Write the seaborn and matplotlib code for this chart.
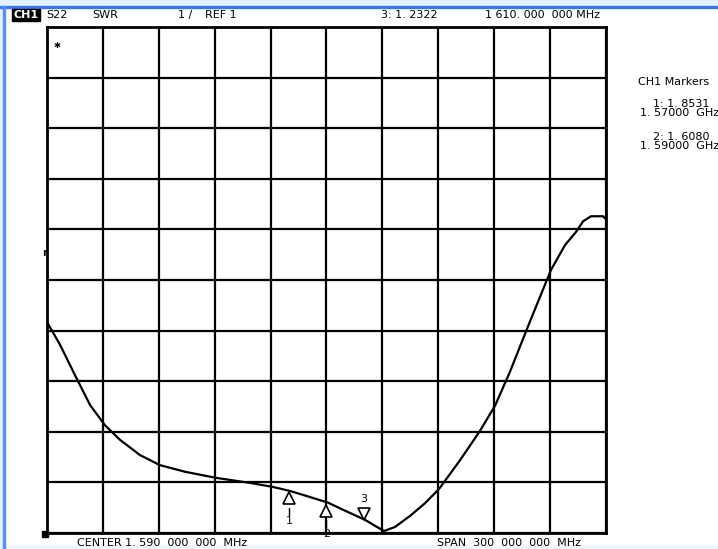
import matplotlib
matplotlib.use("Agg")
import matplotlib.pyplot as plt
import seaborn as sns
import pandas as pd
import numpy as np
from matplotlib.patches import Rectangle

# ---- data ----
freq_ghz = [1.4400, 1.4470, 1.4550, 1.4631, 1.4711, 1.4792, 1.4899, 1.5007,
            1.5141, 1.5307, 1.5490, 1.5613, 1.5705, 1.5812, 1.5908, 1.6000,
            1.6107, 1.6161, 1.6209, 1.6268, 1.6349, 1.6429, 1.6504, 1.6617,
            1.6724, 1.6805, 1.6885, 1.6993, 1.7105, 1.7180, 1.7239, 1.7277,
            1.7320, 1.7384, 1.7400]
swr = [5.17, 4.72, 4.12, 3.53, 3.13, 2.84, 2.54, 2.34, 2.21, 2.09, 1.99,
       1.91, 1.83, 1.71, 1.60, 1.44, 1.26, 1.14, 1.04, 1.12, 1.34, 1.59,
       1.87, 2.44, 3.02, 3.52, 4.19, 5.19, 6.20, 6.69, 6.95, 7.16, 7.26,
       7.26, 7.20]
marker_freq = [1.57, 1.59, 1.61]
marker_swr = [1.8531, 1.6080, 1.2322]
marker_labels = ["1", "2", "3"]

header_texts = ["S22", "SWR", "1 /", "REF 1", "3: 1. 2322", "1 610. 000  000 MHz"]
footer_texts = ["CENTER 1. 590  000  000  MHz", "SPAN  300  000  000  MHz"]
side_texts = ["CH1 Markers", "1: 1. 8531", "1. 57000  GHz", "2: 1. 6080", "1. 59000  GHz"]

center = 1.59
span = 0.30
ref_val = 1.0
per_div = 1.0

sns.set_style("white")
plt.rcParams['font.family'] = ['DejaVu Sans']
plt.rcParams['text.color'] = 'black'

W, H = 718, 549
fig = plt.figure(figsize=(W / 100, H / 100), dpi=100)
fig.patch.set_facecolor("white")

def fx(px):
    return px / W

def fy(py):
    return 1 - py / H

# window frame decorations
fig.patches.append(Rectangle((0, fy(6)), 1, 6 / H, transform=fig.transFigure,
                             color="#e3f1fc", zorder=0))
fig.patches.append(Rectangle((0, fy(8)), 1, 2 / H, transform=fig.transFigure,
                             color="#3b78e7", zorder=1))
fig.patches.append(Rectangle((0, 0), 1, 4 / H, transform=fig.transFigure,
                             color="#eef6fc", zorder=0))
fig.patches.append(Rectangle((0, 0), 3 / W, 1, transform=fig.transFigure,
                             color="#e3f1fc", zorder=0))
fig.patches.append(Rectangle((3 / W, 0), 2 / W, fy(6), transform=fig.transFigure,
                             color="#5b8ef0", zorder=1))

ax = fig.add_axes([fx(47), fy(533), (606 - 47) / W, (533 - 27) / H])
x0 = center - span / 2
x1 = center + span / 2
y0 = ref_val
y1 = ref_val + 10 * per_div
ax.set_xlim(x0, x1)
ax.set_ylim(y0, y1)
ax.set_xticks(np.linspace(x0, x1, 11))
ax.set_yticks(np.linspace(y0, y1, 11))
ax.grid(True, color="black", lw=1.6)
ax.tick_params(length=0, labelbottom=False, labelleft=False)
for s in ax.spines.values():
    s.set_color("black")
    s.set_linewidth(2)
ax.set_facecolor("white")

df = pd.DataFrame({"freq": freq_ghz, "swr": swr})
sns.lineplot(data=df, x="freq", y="swr", color="black", lw=1.6, ax=ax,
             clip_on=True, zorder=5)
ax.set_xlabel("")
ax.set_ylabel("")

# markers
for f, v, lab in zip(marker_freq, marker_swr, marker_labels):
    if lab == "3":
        ax.plot([f], [v + 0.14], marker="v", ms=9, mfc="white", mec="black",
                mew=1.2, zorder=6, clip_on=False)
        ax.text(f, v + 0.34, lab, ha="center", va="bottom", fontsize=8, zorder=7)
    else:
        ax.plot([f], [v - 0.17], marker="^", ms=9, mfc="white", mec="black",
                mew=1.2, zorder=6, clip_on=False)
        ax.plot([f, f], [v - 0.36, v - 0.5], color="black", lw=1, zorder=6)
        ax.text(f, v - 0.52, lab, ha="center", va="top", fontsize=8, zorder=7)

# small symbols
fig.text(fx(57), fy(45), "✱", fontsize=6, ha="center", va="center", fontweight="bold")
fig.text(fx(45), fy(253), "r", fontsize=7, ha="center", va="center", fontweight="bold")
fig.patches.append(Rectangle((fx(42), fy(537)), 6 / W, 6 / H, transform=fig.transFigure,
                             facecolor="black", edgecolor="black", zorder=10))

fs = 8
# CH1 boxed
fig.text(fx(26), fy(15), "CH1", fontsize=fs, ha="center", va="center", color="white",
         fontweight="bold",
         bbox=dict(boxstyle="square,pad=0.1", facecolor="black", edgecolor="black"))
hx = [46, 92, 178, 205, 381, 485]
for t, x in zip(header_texts, hx):
    fig.text(fx(x), fy(15), t, fontsize=fs, ha="left", va="center")
fig.text(fx(77), fy(543), footer_texts[0], fontsize=fs, ha="left", va="center")
fig.text(fx(437), fy(543), footer_texts[1], fontsize=fs, ha="left", va="center")

fig.text(fx(638), fy(82), side_texts[0], fontsize=fs, ha="left", va="center")
fig.text(fx(653), fy(104), side_texts[1], fontsize=fs, ha="left", va="center")
fig.text(fx(640), fy(113), side_texts[2], fontsize=fs, ha="left", va="center")
fig.text(fx(653), fy(137), side_texts[3], fontsize=fs, ha="left", va="center")
fig.text(fx(640), fy(146), side_texts[4], fontsize=fs, ha="left", va="center")

fig.savefig("out.png", dpi=100)
